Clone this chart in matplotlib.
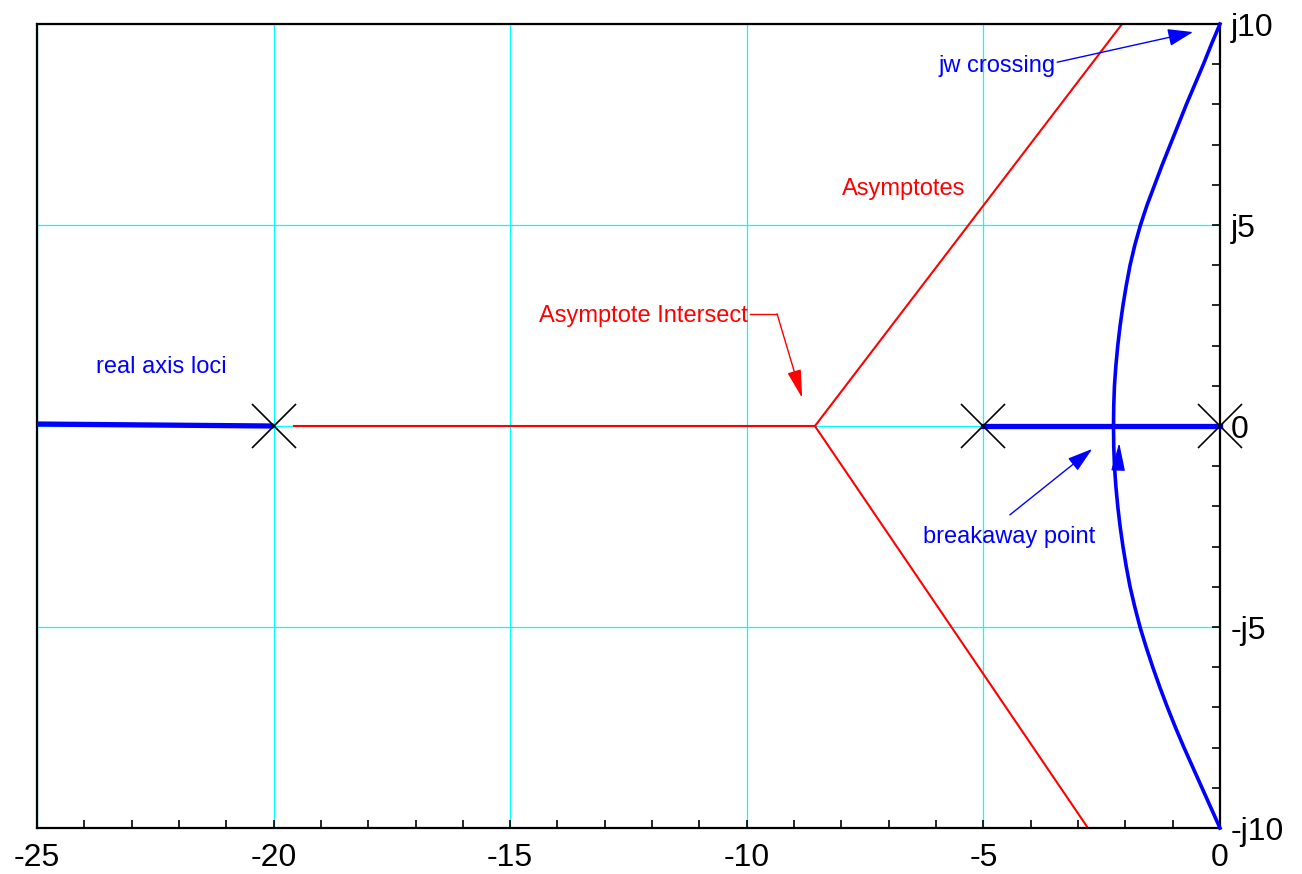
import matplotlib
matplotlib.use('Agg')
import matplotlib.pyplot as plt
from matplotlib.ticker import MultipleLocator, FixedLocator

plt.rcParams['font.family'] = ['Liberation Sans', 'DejaVu Sans']
plt.rcParams['axes.unicode_minus'] = False

# open-loop poles
poles = [-20, -5, 0]

# real-axis segments of the locus
loci_left_re = [-25, -20]
loci_left_im = [0.05, 0.0]
loci_mid_re = [-5, 0]
loci_mid_im = [0, 0]

# complex branches leaving the breakaway point
upper_re = [-2.25, -2.245, -2.23, -2.20, -2.16, -2.11, -2.05, -1.98, -1.90, -1.80,
            -1.68, -1.54, -1.38, -1.22, -1.05, -0.88, -0.71, -0.53, -0.35, -0.18, 0.0]
upper_im = [0.0, 0.5, 1.0, 1.5, 2.0, 2.5, 3.0, 3.5, 4.0, 4.5,
            5.0, 5.5, 6.0, 6.5, 7.0, 7.5, 8.0, 8.5, 9.0, 9.5, 10.0]
lower_re = [-2.25, -2.245, -2.23, -2.20, -2.16, -2.11, -2.05, -1.98, -1.90, -1.80,
            -1.69, -1.56, -1.42, -1.27, -1.11, -0.94, -0.76, -0.57, -0.38, -0.19, 0.0]
lower_im = [0.0, -0.5, -1.0, -1.5, -2.0, -2.5, -3.0, -3.5, -4.0, -4.5,
            -5.0, -5.5, -6.0, -6.5, -7.0, -7.5, -8.0, -8.5, -9.0, -9.5, -10.0]

# asymptotes
asym_center = -8.56
real_red_re = [-19.56, asym_center]
asym_up_re = [asym_center, -2.07]
asym_up_im = [0, 10]
asym_dn_re = [asym_center, -2.79]
asym_dn_im = [0, -10]

yticks = [-10, -5, 0, 5, 10]
ytick_labels = ['-j10', '-j5', '0', 'j5', 'j10']
xticks = [-25, -20, -15, -10, -5, 0]

fig = plt.figure(figsize=(13.02, 8.74), dpi=100)
ax = fig.add_axes([0.0284, 0.0526, 0.9086, 0.9199])

blue = '#0000ff'
red = '#ff0000'

ax.plot(loci_left_re, loci_left_im, color=blue, lw=3.8, solid_capstyle='butt', zorder=3)
ax.plot(loci_mid_re, loci_mid_im, color=blue, lw=3.8, solid_capstyle='projecting', zorder=3, clip_on=False)
ax.plot(upper_re, upper_im, color=blue, lw=2.6, zorder=3, clip_on=False, solid_joinstyle='round')
ax.plot(lower_re, lower_im, color=blue, lw=2.6, zorder=3, clip_on=False, solid_joinstyle='round')

ax.plot(real_red_re, [0, 0], color=red, lw=1.5, zorder=2)
ax.plot(asym_up_re, asym_up_im, color=red, lw=1.5, zorder=2)
ax.plot(asym_dn_re, asym_dn_im, color=red, lw=1.5, zorder=2)

ax.plot(poles, [0] * len(poles), 'x', color='black', markersize=32, mew=1.2,
        zorder=4, clip_on=False)

# direction arrow on the locus
ax.annotate('', xy=(-2.13, -0.42), xytext=(-2.15, -1.02),
            arrowprops=dict(arrowstyle='-|>,head_length=1.45,head_width=0.36',
                            mutation_scale=12, color=blue, lw=1,
                            shrinkA=0, shrinkB=0), zorder=5)

# labels
fs = 17
ax.text(-22.38, 1.47, 'real axis loci', color=blue, fontsize=fs, ha='center', va='center')
ax.text(-12.19, 2.74, 'Asymptote Intersect', color=red, fontsize=fs, ha='center', va='center')
ax.plot([-9.93, -9.36], [2.79, 2.79], color=red, lw=1)
ax.annotate('', xy=(-8.83, 0.70), xytext=(-9.36, 2.79),
            arrowprops=dict(arrowstyle='-|>,head_length=1.45,head_width=0.36',
                            mutation_scale=12, color=red, lw=1,
                            shrinkA=0, shrinkB=0))
ax.text(-6.68, 5.90, 'Asymptotes', color=red, fontsize=fs, ha='center', va='center')

ax.text(-4.71, 8.96, 'jw crossing', color=blue, fontsize=fs, ha='center', va='center')
ax.annotate('', xy=(-0.57, 9.80), xytext=(-3.44, 9.05),
            arrowprops=dict(arrowstyle='-|>,head_length=1.3,head_width=0.45',
                            mutation_scale=12, color=blue, lw=1,
                            shrinkA=0, shrinkB=0))

ax.text(-4.46, -2.76, 'breakaway point', color=blue, fontsize=fs, ha='center', va='center')
ax.annotate('', xy=(-2.70, -0.57), xytext=(-4.44, -2.21),
            arrowprops=dict(arrowstyle='-|>,head_length=1.3,head_width=0.4',
                            mutation_scale=12, color=blue, lw=1,
                            shrinkA=0, shrinkB=0))

# axes, ticks and grid
ax.set_xlim(-25, 0)
ax.set_ylim(-10, 10)
ax.xaxis.set_major_locator(FixedLocator(xticks))
ax.xaxis.set_minor_locator(MultipleLocator(1))
ax.yaxis.tick_right()
ax.yaxis.set_major_locator(FixedLocator(yticks))
ax.set_yticklabels(ytick_labels)
ax.yaxis.set_minor_locator(MultipleLocator(1))
ax.tick_params(axis='both', which='both', direction='in', length=6, width=1.2,
               labelsize=23, color='black')
ax.tick_params(axis='x', which='both', pad=11, top=False)
ax.tick_params(axis='y', which='both', pad=8, left=False)
ax.grid(True, which='major', color='#00ffff', lw=0.9)
ax.set_axisbelow(True)
for sp in ax.spines.values():
    sp.set_linewidth(1.6)

fig.savefig('out.png', dpi=100)
